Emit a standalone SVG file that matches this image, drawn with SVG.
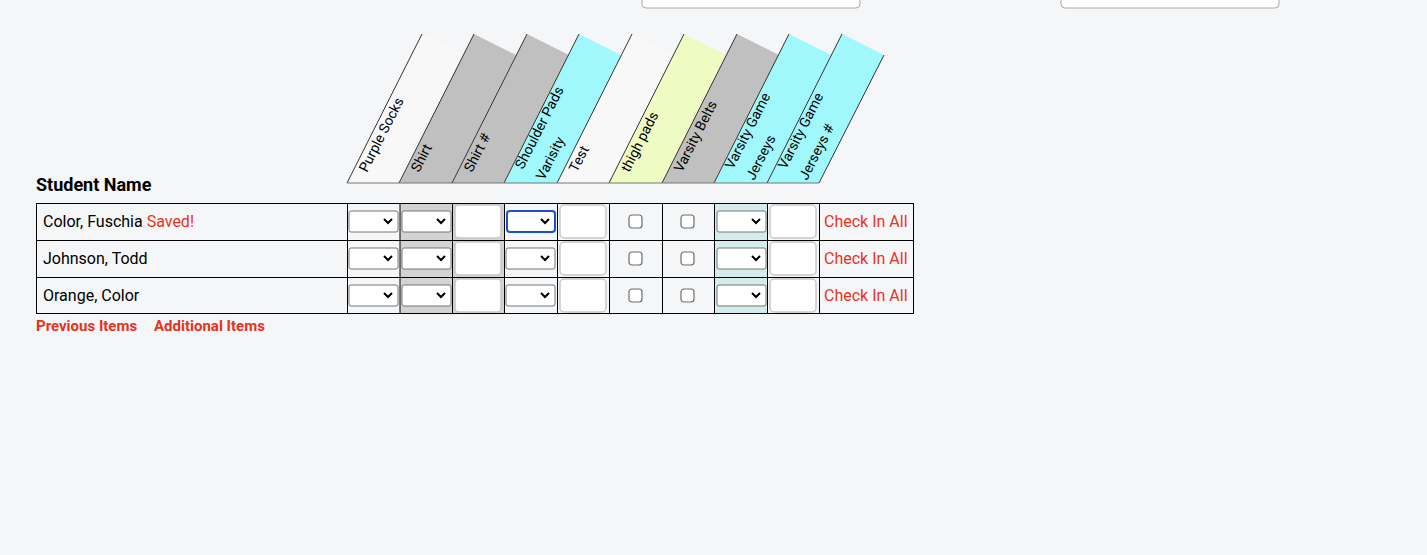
<svg xmlns="http://www.w3.org/2000/svg" width="1427" height="555" viewBox="0 0 1427 555">
<style>
text{font-family:Roboto,"Liberation Sans",sans-serif;}
.h{font-size:14px;fill:#000}
.c{font-size:16px;fill:#000}
.r{font-size:16px;fill:#e8321e}
.sel{fill:#fff;stroke:#767676;stroke-width:1}
.inp{fill:#fff;stroke:#c8c8c8;stroke-width:1.5}
.cb{fill:#fff;stroke:#6e6e6e;stroke-width:1.2}
.chev{fill:none;stroke:#000;stroke-width:2}
.edge{stroke:#333;stroke-width:1}
.grid{stroke:#000;stroke-width:1;fill:none}
</style>
<defs>
<g id="s"><rect class="sel" x="0" y="0" width="49" height="21" rx="2"/><path class="chev" d="M35 8 L39 12 L43 8"/></g>
<rect id="i" class="inp" x="0" y="0" width="46" height="33" rx="4"/>
<rect id="k" class="cb" x="0" y="0" width="13" height="13" rx="3"/>
</defs>
<rect width="1427" height="555" fill="#f5f6f8"/>
<rect x="642" y="-10" width="218" height="18" rx="4" fill="#fff" stroke="#aaa"/>
<rect x="1061" y="-10" width="218" height="18" rx="4" fill="#fff" stroke="#aaa"/>

<g id="headers">
<g id="h1"><polygon points="347,183 422,34 464,55 399,183" fill="#f8f8f8"/><line class="edge" x1="347" y1="183" x2="422" y2="34"/><text class="h" transform="translate(367,173) rotate(-63)">Purple Socks</text></g>
<g id="h2"><polygon points="399,183 474,34 516,55 452,183" fill="#c0c0c0"/><line class="edge" x1="399" y1="183" x2="474" y2="34"/><text class="h" transform="translate(419,173) rotate(-63)">Shirt</text></g>
<g id="h3"><polygon points="452,183 527,34 569,55 504,183" fill="#c0c0c0"/><line class="edge" x1="452" y1="183" x2="527" y2="34"/><text class="h" transform="translate(472,173) rotate(-63)">Shirt #</text></g>
<g id="h4"><polygon points="504,183 579,34 621,55 557,183" fill="#a0f8fc"/><line class="edge" x1="504" y1="183" x2="579" y2="34"/><text class="h" transform="translate(523,170) rotate(-63)">Shoulder Pads</text><text class="h" transform="translate(544,181) rotate(-63)">Varisity</text></g>
<g id="h5"><polygon points="557,183 632,34 674,55 609,183" fill="#f8f8f8"/><line class="edge" x1="557" y1="183" x2="632" y2="34"/><text class="h" transform="translate(577,173) rotate(-63)">Test</text></g>
<g id="h6"><polygon points="609,183 684,34 726,55 662,183" fill="#eefcc4"/><line class="edge" x1="609" y1="183" x2="684" y2="34"/><text class="h" transform="translate(629,173) rotate(-63)">thigh pads</text></g>
<g id="h7"><polygon points="662,183 737,34 779,55 714,183" fill="#c0c0c0"/><line class="edge" x1="662" y1="183" x2="737" y2="34"/><text class="h" transform="translate(682,173) rotate(-63)">Varsity Belts</text></g>
<g id="h8"><polygon points="714,183 789,34 831,55 767,183" fill="#a0f8fc"/><line class="edge" x1="714" y1="183" x2="789" y2="34"/><text class="h" transform="translate(733,170) rotate(-63)">Varsity Game</text><text class="h" transform="translate(754,181) rotate(-63)">Jerseys</text></g>
<g id="h9"><polygon points="767,183 842,34 884,55 819,183" fill="#a0f8fc"/><line class="edge" x1="767" y1="183" x2="842" y2="34"/><line class="edge" x1="819" y1="183" x2="884" y2="55"/><text class="h" transform="translate(786,170) rotate(-63)">Varsity Game</text><text class="h" transform="translate(807,181) rotate(-63)">Jerseys #</text></g>
<line x1="347" y1="183" x2="819" y2="183" stroke="#777"/>
</g>

<text x="36" y="191" style="font-size:18px;font-weight:bold">Student Name</text>

<g id="table">
<rect x="400" y="203" width="104" height="110" fill="#d3d3d3"/>
<rect x="715" y="203" width="53" height="110" fill="#d4ecec"/>
<rect class="grid" x="36.5" y="203.5" width="877" height="110"/>
<path class="grid" d="M36 240.5H914M36 277.5H914M347.5 203V314M400 203V314M452.5 203V314M504.5 203V314M557.5 203V314M609.5 203V314M662.5 203V314M714.5 203V314M767.5 203V314M819.5 203V314"/>
</g>

<g id="row1">
<text class="c" x="43" y="227">Color, Fuschia <tspan fill="#e8321e">Saved!</tspan></text>
<use href="#s" x="349" y="211"/><use href="#s" x="402" y="211"/><use href="#i" x="455" y="205"/>
<rect x="507" y="211" width="48" height="21" rx="3" fill="#fff" stroke="#1a4fcf" stroke-width="2"/><path class="chev" d="M541 219 L545 223 L549 219"/>
<use href="#i" x="560" y="205"/><use href="#k" x="629" y="215"/><use href="#k" x="681" y="215"/>
<use href="#s" x="717" y="211"/><use href="#i" x="770" y="205"/>
<text class="r" x="824" y="227">Check In All</text>
</g>
<g id="row2">
<text class="c" x="43" y="264">Johnson, Todd</text>
<use href="#s" x="349" y="248"/><use href="#s" x="402" y="248"/><use href="#i" x="455" y="242"/>
<use href="#s" x="506" y="248"/><use href="#i" x="560" y="242"/><use href="#k" x="629" y="252"/><use href="#k" x="681" y="252"/>
<use href="#s" x="717" y="248"/><use href="#i" x="770" y="242"/>
<text class="r" x="824" y="264">Check In All</text>
</g>
<g id="row3">
<text class="c" x="43" y="301">Orange, Color</text>
<use href="#s" x="349" y="285"/><use href="#s" x="402" y="285"/><use href="#i" x="455" y="279"/>
<use href="#s" x="506" y="285"/><use href="#i" x="560" y="279"/><use href="#k" x="629" y="289"/><use href="#k" x="681" y="289"/>
<use href="#s" x="717" y="285"/><use href="#i" x="770" y="279"/>
<text class="r" x="824" y="301">Check In All</text>
</g>
<text x="36" y="331" style="font-size:15px;font-weight:bold;fill:#e8321e">Previous Items</text>
<text x="154" y="331" style="font-size:15px;font-weight:bold;fill:#e8321e">Additional Items</text>
</svg>
